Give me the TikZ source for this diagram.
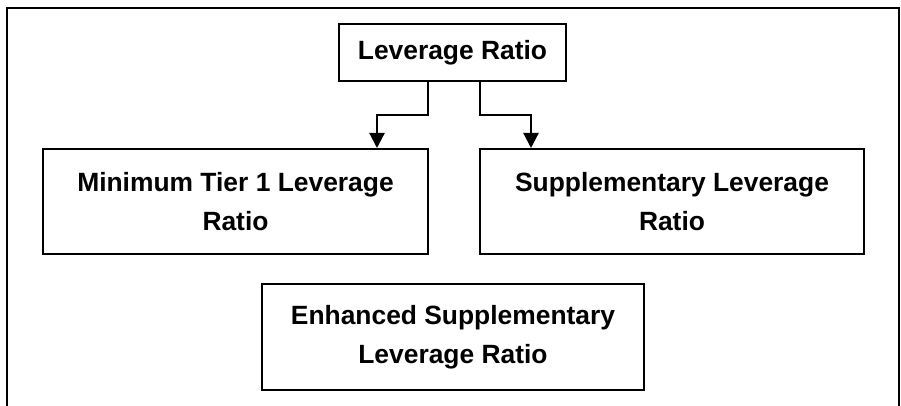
\documentclass[tikz,border=0pt]{standalone}
\usepackage{fontspec}
\setmainfont{Liberation Sans}
\usetikzlibrary{arrows.meta}
\begin{document}
\begin{tikzpicture}[x=1pt,y=-1pt,
  boxnode/.style={draw,line width=2pt,rectangle,inner sep=0pt,align=center,
    font=\fontsize{26.4}{39}\selectfont\bfseries},
  conn/.style={line width=2.2pt,-{Triangle[length=15pt,width=15pt]}},
  frame/.style={line width=2.4pt}]
\useasboundingbox (0,0) rectangle (901,406);
\draw[frame] (7,410) -- (7,8) -- (899,8) -- (899,410);
\node[boxnode,minimum width=227pt,minimum height=57pt] (top) at (452.5,52.5) {Leverage Ratio};
\node[boxnode,minimum width=385pt,minimum height=105pt] (left) at (235.5,201.5) {Minimum Tier 1 Leverage\\Ratio};
\node[boxnode,minimum width=384pt,minimum height=105pt] (right) at (672,201.5) {Supplementary Leverage\\Ratio};
\node[boxnode,minimum width=382pt,minimum height=106pt] (bottom) at (453,337) {Enhanced Supplementary\\Leverage Ratio};
\draw[conn] ([xshift=-24.5pt]top.south) -- ++(0,33) -| ([xshift=141.5pt]left.north);
\draw[conn] ([xshift=27.5pt]top.south) -- ++(0,33) -| ([xshift=-141pt]right.north);
\end{tikzpicture}
\end{document}
